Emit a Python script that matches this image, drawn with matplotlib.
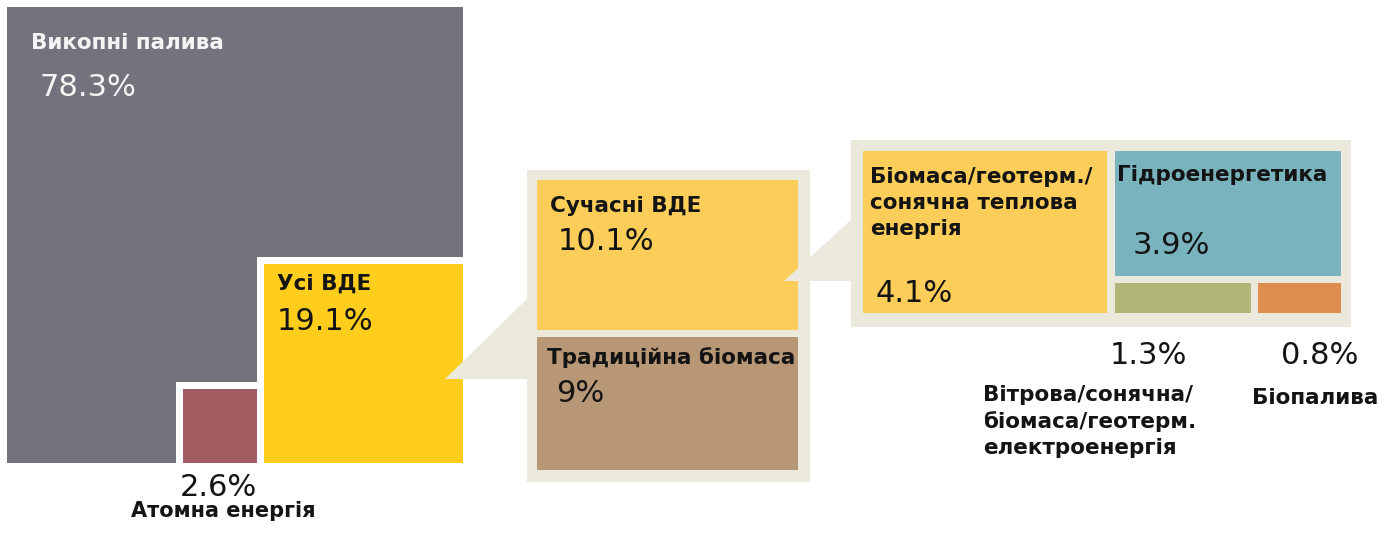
import matplotlib.pyplot as plt
from matplotlib.patches import Rectangle, Polygon
import numpy as np

plt.rcParams['font.family'] = ['DejaVu Sans']

# частки у кінцевому споживанні енергії, %
top_names = ['Викопні палива', 'Атомна енергія', 'Усі ВДЕ']
top_values = [78.3, 2.6, 19.1]

res_names = ['Сучасні ВДЕ', 'Традиційна біомаса']
res_values = [10.1, 9.0]

mod_names = ['Біомаса/геотерм./\nсонячна теплова\nенергія', 'Гідроенергетика',
             'Вітрова/сонячна/\nбіомаса/геотерм.\nелектроенергія', 'Біопалива']
mod_values = [4.1, 3.9, 1.3, 0.8]

GRAY = '#75727D'
YELLOW = '#FFCD1C'
RED = '#A25D63'
BEIGE = '#EBE9DC'
MODERN = '#FCCD58'
TRAD = '#B89776'
HYDRO = '#79B4BE'
GREEN = '#B2B679'
ORANGE = '#DF8D4F'
DARK = '#141414'


def pct(v):
    return f'{v:g}%'


def box(ax, x, y, w, h, color, z=1):
    ax.add_patch(Rectangle((x, y), w, h, facecolor=color, edgecolor='none', zorder=z))


fig = plt.figure(figsize=(13.95, 5.44), dpi=100)
ax = fig.add_axes([0, 0, 1, 1])
ax.set_xlim(0, 1395)
ax.set_ylim(544, 0)
ax.axis('off')

lab_kw = dict(fontsize=15.5, fontweight='bold', color=DARK, zorder=5)
num_kw = dict(fontsize=22, color=DARK, zorder=5)

# --- головний квадрат (площа ~ частка) ---
x0, y0, S, gap = 7, 7, 456, 7
x1, y1 = x0 + S, y0 + S
a = S * np.sqrt(top_values[2] / 100)
b = S * np.sqrt(top_values[1] / 100)

box(ax, x0, y0, S, S, GRAY)
box(ax, x1 - a - gap, y1 - a - gap, a + gap, a + gap + 2, 'white', 2)
box(ax, x1 - a, y1 - a, a, a, YELLOW, 3)
rx1 = x1 - a - gap
box(ax, rx1 - b - gap, y1 - b - gap, b + gap, b + gap + 2, 'white', 2)
box(ax, rx1 - b, y1 - b, b, b, RED, 3)

ax.text(x0 + 24, 43, top_names[0], va='center', **{**lab_kw, 'color': '#F4F4F4'})
ax.text(x0 + 33, 88, pct(top_values[0]), va='center', **{**num_kw, 'color': '#F4F4F4'})
ax.text(x1 - a + 13, 284, top_names[2], va='center', **lab_kw)
ax.text(x1 - a + 13, 322, pct(top_values[2]), va='center', **num_kw)
ax.text(rx1 - b / 2 - 2, 487, pct(top_values[1]), ha='center', va='center', **num_kw)
ax.text(rx1 - b / 2 + 3, 511, top_names[1], ha='center', va='center',
        **{**lab_kw, 'fontsize': 15})

# --- панель 1: усі ВДЕ ---
px, py, pw, ph = 527, 170, 283, 312
pad = 10
box(ax, px, py, pw, ph, BEIGE)
ax.add_patch(Polygon([(px - 82, 379), (px + 2, 297), (px + 2, 379)],
                     closed=True, facecolor=BEIGE, edgecolor='none', zorder=4))
iw = pw - 2 * pad - 2
ih = ph - 2 * pad - 2 - gap
h0 = ih * res_values[0] / sum(res_values)
box(ax, px + pad, py + pad, iw, h0, MODERN, 2)
box(ax, px + pad, py + pad + h0 + gap, iw, ih - h0, TRAD, 2)

ax.text(px + 23, 206, res_names[0], va='center', **lab_kw)
ax.text(px + 31, 242, pct(res_values[0]), va='center', **num_kw)
ax.text(px + 20, 358, res_names[1], va='center', **lab_kw)
ax.text(px + 29, 393, pct(res_values[1]), va='center', **num_kw)

# --- панель 2: сучасні ВДЕ ---
qx, qy, qw, qh = 851, 140, 500, 187
box(ax, qx, qy, qw, qh, BEIGE)
ax.add_patch(Polygon([(qx - 67, 281), (qx + 2, 218), (qx + 2, 281)],
                     closed=True, facecolor=BEIGE, edgecolor='none', zorder=4))
lx, ly, lw, lh = qx + 12, qy + 11, 244, 162
box(ax, lx, ly, lw, lh, MODERN, 2)
rx = lx + lw + 8
rw = qx + qw - 10 - rx
hh = 125
box(ax, rx, ly, rw, hh, HYDRO, 2)
bw = rw - gap
w0 = bw * mod_values[2] / (mod_values[2] + mod_values[3])
by = ly + hh + gap
bh = ly + lh - by
box(ax, rx, by, w0, bh, GREEN, 2)
box(ax, rx + w0 + gap, by, bw - w0, bh, ORANGE, 2)

ax.text(lx + 7, 203, mod_names[0], va='center', linespacing=1.35, **lab_kw)
ax.text(lx + 13, 293, pct(mod_values[0]), va='center', **num_kw)
ax.text(rx + 2, 175, mod_names[1], va='center', **lab_kw)
ax.text(rx + 18, 245, pct(mod_values[1]), va='center', **num_kw)

ax.text(rx + w0 / 2 - 34, 355, pct(mod_values[2]), ha='center', va='center', **num_kw)
ax.text(rx + w0 + gap + (bw - w0) / 2 + 20, 355, pct(mod_values[3]),
        ha='center', va='center', **num_kw)
ax.text(983, 421.5, mod_names[2], va='center', linespacing=1.35, **lab_kw)
ax.text(1252, 398, mod_names[3], va='center', **lab_kw)

fig.savefig('out.png', dpi=100)
